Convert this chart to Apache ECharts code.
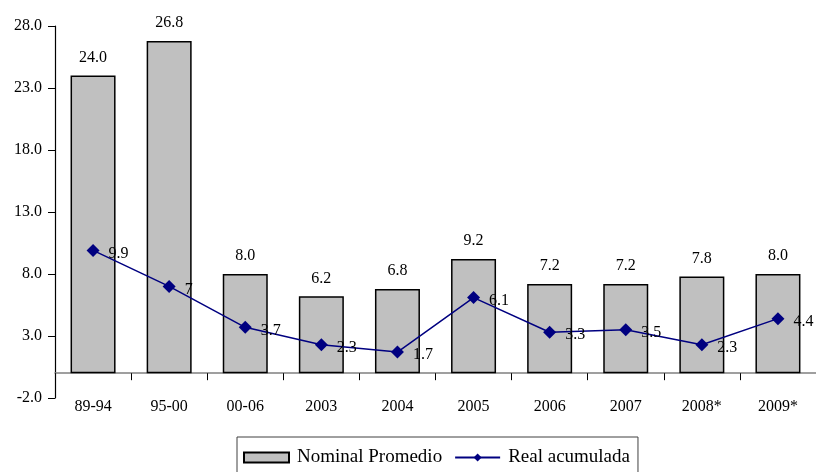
<!DOCTYPE html>
<html>
<head>
<meta charset="utf-8">
<script src="https://cdn.jsdelivr.net/npm/echarts@6/dist/echarts.min.js"></script>
<style>html,body{margin:0;padding:0;background:#fff}#c{width:816px;height:472px}</style>
</head>
<body>
<div id="c"></div>
<script>
var categories = ['89-94','95-00','00-06','2003','2004','2005','2006','2007','2008*','2009*'];
var nominalPromedio = [24.0, 26.8, 8.0, 6.2, 6.8, 9.2, 7.2, 7.2, 7.8, 8.0];
var realAcumulada = [9.9, 7, 3.7, 2.3, 1.7, 6.1, 3.3, 3.5, 2.3, 4.4];
var yTicks = [-2, 3, 8, 13, 18, 23, 28];

var FONT = '"Liberation Serif", "DejaVu Serif", serif';
var chart = echarts.init(document.getElementById('c'), null, {renderer: 'canvas'});
chart.setOption({
  animation: false,
  backgroundColor: '#ffffff',
  textStyle: {fontFamily: FONT, color: '#000'},
  grid: {left: 55, top: 26, bottom: 74, right: -4, containLabel: false},
  legend: {
    left: 237, top: 437,
    padding: [11, 8, 14, 6],
    borderColor: '#404040', borderWidth: 1,
    itemWidth: 45, itemHeight: 10, itemGap: 12,
    textStyle: {fontFamily: FONT, fontSize: 19, color: '#000', padding: [0, 0, 0, 3]},
    data: [{name: 'Nominal Promedio', icon: 'rect'}, {name: 'Real acumulada'}]
  },
  xAxis: {
    type: 'category',
    data: categories,
    axisLine: {onZero: true, lineStyle: {color: '#808080', width: 1.5}},
    axisTick: {show: true, alignWithLabel: false, length: 7, lineStyle: {color: '#000'}},
    axisLabel: {margin: 1, fontFamily: FONT, fontSize: 16, color: '#000'}
  },
  yAxis: {
    type: 'value',
    min: -2, max: 28,
    splitLine: {show: false},
    axisLine: {show: true, onZero: false, lineStyle: {color: '#000', width: 1.2}},
    axisTick: {show: true, length: 7, customValues: yTicks, lineStyle: {color: '#000'}},
    axisLabel: {
      customValues: yTicks, margin: 13,
      fontFamily: FONT, fontSize: 16, color: '#000',
      formatter: function (v) { return v.toFixed(1); }
    }
  },
  series: [
    {
      name: 'Nominal Promedio',
      type: 'bar',
      data: nominalPromedio,
      barWidth: 45,
      itemStyle: {color: '#c0c0c0', borderColor: '#000', borderWidth: 1.5},
      label: {
        show: true, position: 'top', distance: 10,
        fontFamily: FONT, fontSize: 16, color: '#000',
        formatter: function (p) { return p.value.toFixed(1); }
      }
    },
    {
      name: 'Real acumulada',
      type: 'line',
      data: realAcumulada,
      symbol: 'diamond', symbolSize: 13,
      lineStyle: {color: '#000080', width: 1.5},
      itemStyle: {color: '#000080'},
      label: {
        show: true, position: 'right', distance: 9, offset: [0, 3],
        fontFamily: FONT, fontSize: 16, color: '#000'
      }
    }
  ]
});
</script>
</body>
</html>
